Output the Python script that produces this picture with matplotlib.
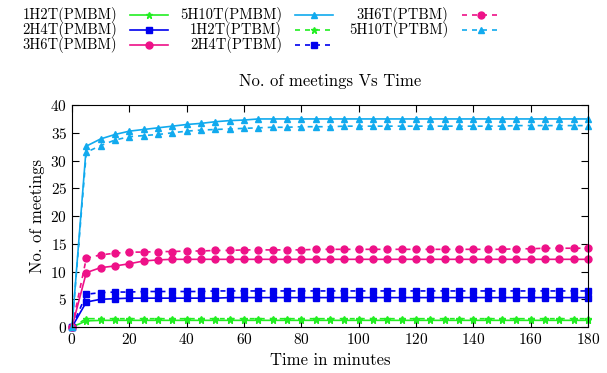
import matplotlib
matplotlib.use("Agg")
import matplotlib.pyplot as plt
from matplotlib.lines import Line2D

plt.rcParams['font.family'] = ['cmr10', 'DejaVu Serif']
plt.rcParams['axes.formatter.use_mathtext'] = True
plt.rcParams['mathtext.fontset'] = 'cm'

# time axis, one sample every 5 minutes
minutes = [0, 5, 10, 15, 20, 25, 30, 35, 40, 45, 50, 55, 60, 65, 70, 75, 80, 85, 90,
           95, 100, 105, 110, 115, 120, 125, 130, 135, 140, 145, 150, 155, 160, 165,
           170, 175, 180]

pmbm_1h2t = [0, 1.1, 1.2, 1.2, 1.2, 1.2, 1.2, 1.2, 1.2, 1.2, 1.2, 1.2, 1.2, 1.2, 1.2,
             1.2, 1.2, 1.2, 1.2, 1.2, 1.2, 1.2, 1.2, 1.2, 1.2, 1.2, 1.2, 1.2, 1.2, 1.2,
             1.2, 1.2, 1.2, 1.2, 1.2, 1.2, 1.2]
pmbm_2h4t = [0, 4.5, 5.0, 5.1, 5.2, 5.2, 5.2, 5.2, 5.2, 5.2, 5.2, 5.3, 5.3, 5.3, 5.3,
             5.3, 5.3, 5.3, 5.3, 5.3, 5.3, 5.3, 5.3, 5.3, 5.3, 5.3, 5.3, 5.3, 5.3, 5.3,
             5.3, 5.3, 5.3, 5.3, 5.3, 5.3, 5.3]
pmbm_3h6t = [0, 9.8, 10.7, 11.0, 11.4, 11.9, 12.1, 12.2, 12.2, 12.2, 12.2, 12.2, 12.2,
             12.2, 12.2, 12.2, 12.2, 12.2, 12.2, 12.2, 12.2, 12.2, 12.2, 12.2, 12.2,
             12.2, 12.2, 12.2, 12.2, 12.2, 12.2, 12.2, 12.2, 12.2, 12.2, 12.2, 12.2]
pmbm_5h10t = [0, 32.6, 33.9, 34.7, 35.3, 35.6, 35.9, 36.2, 36.5, 36.7, 37.0, 37.2,
              37.3, 37.5, 37.5, 37.5, 37.5, 37.5, 37.5, 37.5, 37.5, 37.5, 37.5, 37.5,
              37.5, 37.5, 37.5, 37.5, 37.5, 37.5, 37.5, 37.5, 37.5, 37.5, 37.5, 37.5,
              37.5]
ptbm_1h2t = [0, 1.5, 1.5, 1.5, 1.5, 1.5, 1.5, 1.5, 1.5, 1.5, 1.5, 1.5, 1.5, 1.5, 1.5,
             1.5, 1.5, 1.5, 1.5, 1.5, 1.5, 1.5, 1.5, 1.5, 1.5, 1.5, 1.5, 1.5, 1.5, 1.5,
             1.5, 1.5, 1.5, 1.5, 1.5, 1.5, 1.5]
ptbm_2h4t = [0, 5.9, 6.2, 6.3, 6.3, 6.4, 6.4, 6.4, 6.4, 6.4, 6.5, 6.5, 6.5, 6.5, 6.5,
             6.5, 6.5, 6.5, 6.5, 6.5, 6.5, 6.5, 6.5, 6.5, 6.5, 6.5, 6.5, 6.5, 6.5, 6.5,
             6.5, 6.5, 6.5, 6.5, 6.5, 6.5, 6.5]
ptbm_3h6t = [0, 12.4, 13.0, 13.3, 13.5, 13.5, 13.6, 13.6, 13.7, 13.7, 13.8, 13.8, 13.9,
             13.9, 13.9, 13.9, 13.9, 14.0, 14.0, 14.0, 14.0, 14.0, 14.0, 14.0, 14.0,
             14.0, 14.0, 14.0, 14.0, 14.0, 14.0, 14.1, 14.1, 14.2, 14.2, 14.2, 14.2]
ptbm_5h10t = [0, 31.5, 32.7, 33.7, 34.3, 34.5, 34.7, 35.0, 35.3, 35.5, 35.6, 35.7,
              35.8, 35.9, 36.0, 36.0, 36.1, 36.1, 36.1, 36.2, 36.2, 36.2, 36.2, 36.2,
              36.2, 36.2, 36.2, 36.2, 36.2, 36.2, 36.2, 36.3, 36.3, 36.3, 36.3, 36.3,
              36.3]

green = '#22ee22'
blue = '#0000ee'
pink = '#ee1188'
cyan = '#11aaee'

series = [
    ("1H2T(PMBM)", pmbm_1h2t, green, '-', '*'),
    ("2H4T(PMBM)", pmbm_2h4t, blue, '-', 's'),
    ("3H6T(PMBM)", pmbm_3h6t, pink, '-', 'o'),
    ("5H10T(PMBM)", pmbm_5h10t, cyan, '-', '^'),
    ("1H2T(PTBM)", ptbm_1h2t, green, '--', '*'),
    ("2H4T(PTBM)", ptbm_2h4t, blue, '--', 's'),
    ("3H6T(PTBM)", ptbm_3h6t, pink, '--', 'o'),
    ("5H10T(PTBM)", ptbm_5h10t, cyan, '--', '^'),
]

fig = plt.figure(figsize=(6.07, 3.73), dpi=100)
ax = fig.add_axes([0.1186, 0.1233, 0.85, 0.595])

for label, vals, col, ls, mk in series:
    ax.plot(minutes, vals, color=col, linestyle=ls, marker=mk, markersize=5,
            linewidth=1.2, dashes=(3, 3) if ls == '--' else (None, None), clip_on=False)

ax.set_xlim(0, 180)
ax.set_ylim(0, 40)
ax.set_xticks(range(0, 181, 20))
ax.set_yticks(range(0, 41, 5))
ax.tick_params(direction='in', top=True, right=True, length=5, labelsize=11)
ax.set_xlabel("Time in minutes", fontsize=12)
ax.set_ylabel("No. of meetings", fontsize=12)
ax.set_title("No. of meetings Vs Time", fontsize=12, pad=14)

# gnuplot style key: label right aligned, sample to its right
col_text_x = [117, 282, 448]
col_line_x = [130, 295, 462]
row_y = [15, 30, 45]
W, H = 607.0, 373.0
for i, (label, vals, col, ls, mk) in enumerate(series):
    c, r = divmod(i, 3)
    tx = col_text_x[c] / W
    ty = 1 - row_y[r] / H
    fig.text(tx, ty, label, ha='right', va='center', fontsize=10.5)
    lx0 = col_line_x[c] / W
    lx1 = (col_line_x[c] + 38) / W
    fig.add_artist(Line2D([lx0, lx1], [ty, ty], color=col, linestyle=ls, linewidth=1.2,
                          dashes=(3, 3) if ls == '--' else (None, None)))
    fig.add_artist(Line2D([(lx0 + lx1) / 2], [ty], color=col, marker=mk, markersize=5))

fig.savefig("out.png", dpi=100)
